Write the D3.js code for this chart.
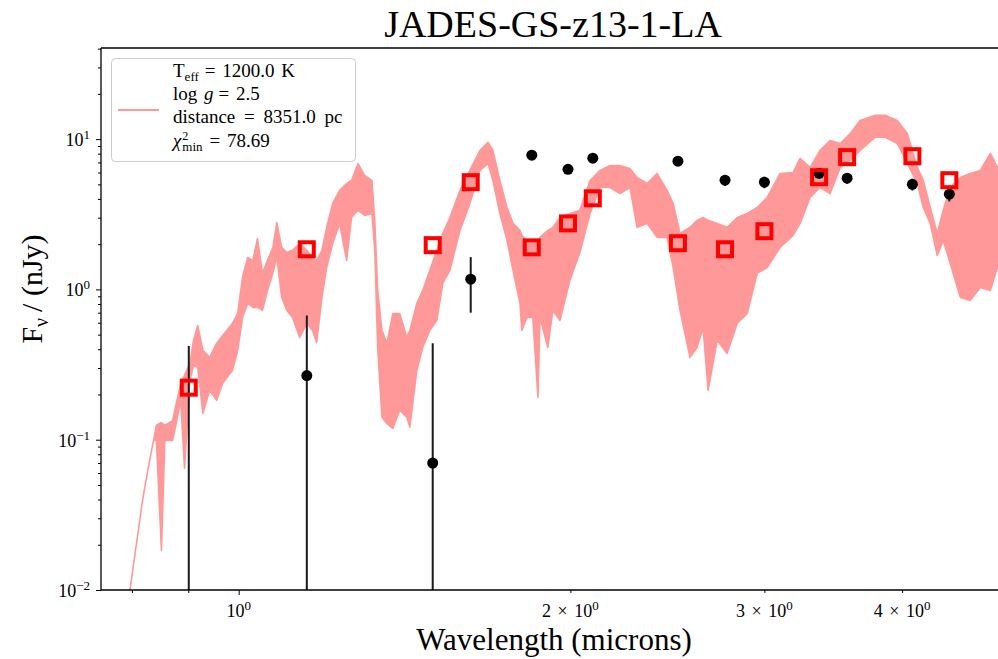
<!DOCTYPE html>
<html>
<head>
<meta charset="utf-8">
<script src="https://cdn.jsdelivr.net/npm/d3@7"></script>
<style>
  body { margin: 0; background: #fff; }
  svg text { font-family: "Liberation Serif", "DejaVu Serif", serif; fill: #000; }
</style>
</head>
<body>
<svg id="chart" width="998" height="659"></svg>
<script>
const specWave = [0.795,0.803,0.818,0.827,0.837,0.842,0.851,0.857,0.862,0.871,
  0.877,0.886,0.893,0.903,0.910,0.918,0.928,0.941,0.955,0.967,
  0.987,0.998,1.008,1.019,1.030,1.040,1.051,1.062,1.074,1.083,
  1.094,1.106,1.119,1.136,1.153,1.167,1.177,1.190,1.202,1.217,
  1.235,1.253,1.266,1.283,1.301,1.321,1.329,1.337,1.349,1.363,
  1.380,1.400,1.421,1.430,1.451,1.469,1.491,1.513,1.532,1.555,
  1.588,1.621,1.656,1.684,1.701,1.726,1.752,1.774,1.800,1.807,
  1.826,1.849,1.869,1.877,1.908,1.928,1.957,1.998,2.040,2.084,
  2.128,2.173,2.218,2.265,2.299,2.348,2.397,2.448,2.479,2.515,
  2.568,2.606,2.639,2.667,2.718,2.775,2.834,2.894,2.955,3.017,
  3.100,3.185,3.232,3.300,3.370,3.441,3.515,3.589,3.664,3.782,
  3.862,3.960,4.044,4.129,4.181,4.242,4.305,4.359,4.423,4.517,
  4.612,4.710,4.810,4.881,4.963];
const specHi = [0.0089,0.0150,0.0395,0.0625,0.099,0.125,0.130,0.125,0.128,0.134,
  0.169,0.237,0.268,0.322,0.458,0.576,0.393,0.353,0.437,0.494,
  0.594,0.692,1.20,1.63,1.56,2.18,1.28,1.56,1.90,2.79,
  1.90,1.76,1.82,2.02,1.82,1.63,1.56,1.82,2.59,3.73,
  4.56,5.07,5.31,6.89,5.74,5.31,2.88,0.985,0.534,0.437,
  0.692,0.692,0.479,0.534,0.807,0.985,1.34,1.82,2.36,3.01,
  4.56,6.19,8.41,9.51,8.41,5.31,3.51,2.75,2.47,2.29,
  2.12,2.02,2.12,2.22,2.47,2.59,3.01,3.20,3.36,5.31,
  6.19,6.68,6.68,6.38,5.56,5.07,5.91,4.56,3.73,2.36,
  2.59,2.88,3.01,2.88,2.75,2.59,3.01,3.20,3.51,4.09,
  5.91,6.00,7.44,6.48,8.41,9.80,9.36,10.9,13.3,14.4,
  14.4,13.3,10.9,6.48,5.31,3.51,2.36,3.36,4.77,5.56,
  5.91,6.19,8.04,6.48,7.22];
const specLo = [0.0089,0.0150,0.0395,0.0625,0.099,0.099,0.0183,0.099,0.099,0.099,
  0.125,0.183,0.0644,0.248,0.312,0.303,0.150,0.213,0.183,0.237,
  0.289,0.393,0.651,0.807,0.759,0.759,0.725,0.985,1.28,1.63,
  0.885,0.725,0.651,0.479,0.594,0.534,0.444,0.885,1.40,2.02,
  2.75,1.56,3.01,3.36,3.11,3.20,1.82,0.411,0.141,0.128,
  0.119,0.157,0.141,0.121,0.289,0.411,0.534,0.622,1.10,1.34,
  2.47,3.73,6.19,6.89,5.31,3.20,2.12,1.34,0.807,0.534,
  0.651,0.651,0.191,0.651,0.411,0.725,0.622,1.15,1.76,3.20,
  4.77,4.77,4.35,4.77,2.59,2.75,2.22,2.22,1.40,0.725,
  0.353,0.411,0.559,0.213,0.458,0.375,0.594,0.692,1.28,1.40,
  1.90,2.29,2.75,4.09,4.77,4.35,6.48,7.22,8.41,10.3,
  10.3,9.36,6.89,5.07,3.51,2.75,1.68,2.12,1.49,0.885,
  0.845,1.03,0.985,1.40,1.15];

// observed photometry and model photometry
const photWave = [0.901,1.153,1.50,1.624,1.845,1.99,2.096,2.504,2.763,3.00,3.363,3.566,4.087,4.415];
const photFlux = [-0.02,0.267,0.070,1.17,7.82,6.30,7.47,7.13,5.33,5.17,5.93,5.50,5.00,4.30];
const photErr  = [0.44,0.404,0.369,0.47,0.45,0.45,0.45,0.45,0.45,0.45,0.45,0.45,0.45,0.45];
const modelFlux = [0.222,1.85,1.97,5.17,1.905,2.75,4.04,2.03,1.85,2.44,5.58,7.59,7.70,5.33];

const xLimits = [0.75, 4.97];
const yLimits = [0.01, 40.4];
const xMajorTicks = [1];
const xMinorTicks = [0.8, 0.9, 2, 3, 4];
const xLabelTicks = [1, 2, 3, 4];
const xLabelBase = ['10', '2 \u00d7 10', '3 \u00d7 10', '4 \u00d7 10'];
const yMajorTicks = [0.01, 0.1, 1, 10];
const yLabelExp = ['\u22122', '\u22121', '0', '1'];

const specColor = '#ff9999';

const svg = d3.select('#chart');
const plotLeft = 101, plotRight = 1006, plotTop = 48, plotBottom = 590;

const x = d3.scaleLog().domain(xLimits).range([plotLeft, plotRight]);
const y = d3.scaleLog().domain(yLimits).range([plotBottom, plotTop]);

svg.append('clipPath').attr('id', 'clip')
  .append('rect').attr('x', plotLeft).attr('y', plotTop)
  .attr('width', plotRight - plotLeft).attr('height', plotBottom - plotTop);

const plotG = svg.append('g').attr('clip-path', 'url(#clip)');

const spec = specWave.map((w, i) => ({ w: w, hi: specHi[i], lo: specLo[i] }));
plotG.append('path')
  .datum(spec)
  .attr('d', d3.area().x(d => x(d.w)).y0(d => y(d.lo)).y1(d => y(d.hi)))
  .attr('fill', specColor)
  .attr('stroke', specColor)
  .attr('stroke-width', 1.6)
  .attr('stroke-linejoin', 'round');

const phot = photWave.map((w, i) => ({ w: w, f: photFlux[i], e: photErr[i], m: modelFlux[i] }));

plotG.selectAll('.ebar')
  .data(phot)
  .enter().append('line')
  .attr('class', 'ebar')
  .attr('x1', d => x(d.w)).attr('x2', d => x(d.w))
  .attr('y1', d => y(d.f + d.e))
  .attr('y2', d => (d.f - d.e) > 0 ? y(d.f - d.e) : plotBottom + 20)
  .attr('stroke', '#1a1a1a')
  .attr('stroke-width', 2);

plotG.selectAll('.dot')
  .data(phot.filter(d => d.f > 0))
  .enter().append('circle')
  .attr('class', 'dot')
  .attr('cx', d => x(d.w)).attr('cy', d => y(d.f))
  .attr('r', 5.5)
  .attr('fill', '#000');

plotG.selectAll('.model')
  .data(phot)
  .enter().append('rect')
  .attr('class', 'model')
  .attr('x', d => x(d.w) - 7).attr('y', d => y(d.m) - 7)
  .attr('width', 14).attr('height', 14)
  .attr('fill', 'none')
  .attr('stroke', '#ff0000')
  .attr('stroke-width', 4);

// axes
const gx = svg.append('g').attr('transform', `translate(0,${plotBottom})`)
  .call(d3.axisBottom(x).tickValues(xMajorTicks).tickSize(5).tickSizeOuter(0).tickFormat(''));
gx.select('.domain').remove();
const gxm = svg.append('g').attr('transform', `translate(0,${plotBottom})`)
  .call(d3.axisBottom(x).tickValues(xMinorTicks).tickSize(3).tickSizeOuter(0).tickFormat(''));
gxm.select('.domain').remove();

const yMinorTicks = [];
[0.01, 0.1, 1, 10].forEach(p => {
  for (let k = 2; k <= 9; k++) {
    if (k * p <= yLimits[1]) yMinorTicks.push(k * p);
  }
});
const gy = svg.append('g').attr('transform', `translate(${plotLeft},0)`)
  .call(d3.axisLeft(y).tickValues(yMajorTicks).tickSize(5).tickSizeOuter(0).tickFormat(''));
gy.select('.domain').remove();
const gym = svg.append('g').attr('transform', `translate(${plotLeft},0)`)
  .call(d3.axisLeft(y).tickValues(yMinorTicks).tickSize(3).tickSizeOuter(0).tickFormat(''));
gym.select('.domain').remove();

svg.selectAll('.tick line').attr('stroke', '#000').attr('stroke-width', 1);

// tick labels with superscripts
xLabelTicks.forEach((v, i) => {
  const t = svg.append('text')
    .attr('x', x(v)).attr('y', plotBottom + 27)
    .attr('text-anchor', 'middle')
    .style('font-size', '18px')
    .style('word-spacing', '2px');
  t.append('tspan').text(xLabelBase[i]);
  t.append('tspan').attr('dy', -7).style('font-size', '13px').text('0');
});

yMajorTicks.forEach((v, i) => {
  const t = svg.append('text')
    .attr('x', plotLeft - 11).attr('y', y(v) + 7)
    .attr('text-anchor', 'end')
    .style('font-size', '18px');
  t.append('tspan').text('10');
  t.append('tspan').attr('dy', -7).style('font-size', '13px').text(yLabelExp[i]);
});

// spines
svg.append('line').attr('x1', plotLeft).attr('x2', plotLeft).attr('y1', plotTop).attr('y2', plotBottom)
  .attr('stroke', '#000').attr('stroke-width', 1.3);
svg.append('line').attr('x1', plotLeft).attr('x2', plotRight).attr('y1', plotBottom).attr('y2', plotBottom)
  .attr('stroke', '#000').attr('stroke-width', 1.3);
svg.append('line').attr('x1', plotLeft).attr('x2', plotRight).attr('y1', plotTop).attr('y2', plotTop)
  .attr('stroke', '#000').attr('stroke-width', 1.3);
svg.append('line').attr('x1', plotRight).attr('x2', plotRight).attr('y1', plotTop).attr('y2', plotBottom)
  .attr('stroke', '#000').attr('stroke-width', 1.3);

// title and axis labels
svg.append('text').attr('x', 553).attr('y', 37).attr('text-anchor', 'middle')
  .style('font-size', '38px').text('JADES-GS-z13-1-LA');

svg.append('text').attr('x', 554).attr('y', 650).attr('text-anchor', 'middle')
  .style('font-size', '31px').text('Wavelength (microns)');

const yl = svg.append('text')
  .attr('transform', 'translate(42,289) rotate(-90)')
  .attr('text-anchor', 'middle')
  .style('font-size', '30px');
yl.append('tspan').text('F');
yl.append('tspan').attr('dy', 6).style('font-size', '20px').text('\u03bd');
yl.append('tspan').attr('dy', -6).attr('dx', 6).text('/ (nJy)');

// legend
const leg = svg.append('g');
leg.append('rect')
  .attr('x', 111.5).attr('y', 58.5).attr('width', 244).attr('height', 103).attr('rx', 4)
  .attr('fill', '#fff').attr('fill-opacity', 0.8)
  .attr('stroke', '#cccccc').attr('stroke-width', 1);
leg.append('line').attr('x1', 118).attr('x2', 159).attr('y1', 110).attr('y2', 110)
  .attr('stroke', specColor).attr('stroke-width', 2);

const lx = 173;
const fs = '19px';
const l1 = leg.append('text').attr('x', lx).attr('y', 77).style('font-size', fs)
  .style('word-spacing', '2px');
l1.append('tspan').text('T');
l1.append('tspan').attr('dy', 4).style('font-size', '13px').text('eff');
l1.append('tspan').attr('dy', -4).attr('dx', 6).text('= 1200.0 K');

const l2 = leg.append('text').attr('x', lx).attr('y', 100).style('font-size', fs)
  .style('word-spacing', '2px');
l2.append('tspan').text('log ');
l2.append('tspan').style('font-style', 'italic').text('g');
l2.append('tspan').attr('dx', 5).text('= 2.5');

leg.append('text').attr('x', lx).attr('y', 123).style('font-size', fs)
  .style('word-spacing', '4px')
  .text('distance = 8351.0 pc');

// chi-square line as one text: sup and sub stacked after the chi
const l4 = leg.append('text').attr('x', lx).attr('y', 147).style('font-size', fs)
  .style('word-spacing', '2px');
l4.append('tspan').style('font-style', 'italic').text('\u03c7');
const supT = l4.append('tspan').attr('dx', 1).attr('dy', -7).style('font-size', '12px').text('2');
const supW = supT.node().getComputedTextLength();
l4.append('tspan').attr('dx', -supW).attr('dy', 11).style('font-size', '13px').text('min');
l4.append('tspan').attr('dx', 7).attr('dy', -4).text('= 78.69');
</script>
</body>
</html>
